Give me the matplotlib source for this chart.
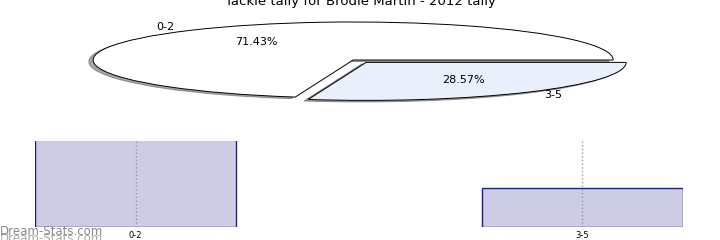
import matplotlib
matplotlib.use("Agg")
import matplotlib.pyplot as plt

# data
categories = ["0-2", "3-5"]
tackles = [5, 2]
title = "Tackle tally for Brodie Martin - 2012 tally"

fig = plt.figure(figsize=(7.2, 2.4), dpi=100)

# flattened pie on top
ax1 = fig.add_axes([0.039, 0.552, 0.903, 0.396])
wedges, texts, autotexts = ax1.pie(
    tackles, labels=categories, autopct="%.2f%%", startangle=0,
    explode=[0, 0.08], shadow=dict(ox=-0.012, oy=-0.03, shade=0.7),
    colors=["white", "#eaf0fb"],
    wedgeprops=dict(edgecolor="black", linewidth=0.7),
    textprops=dict(fontsize=8))
ax1.set_aspect("auto")
ax1.set_xlim(-1.25, 1.25)
ax1.set_ylim(-1.25, 1.25)

fig.text(0.5, 0.992, title, ha="center", va="center", fontsize=9.5)

# bars below
ax2 = fig.add_axes([0.0486, 0.054, 0.9, 0.358])
x = list(range(len(categories)))
ax2.bar(x, tackles, width=0.45, color="#ccccE4", edgecolor="#1a1a9a", linewidth=1, zorder=1)
ax2.set_xlim(-0.225, 1.225)
ax2.set_ylim(0, 4.4)
ax2.set_xticks(x)
ax2.set_xticklabels(categories, fontsize=6)
ax2.tick_params(axis="x", length=0, pad=3)
ax2.set_yticks([])
for s in ax2.spines.values():
    s.set_visible(False)
for xi in x:
    ax2.axvline(xi, color="#999999", linestyle=":", linewidth=1, zorder=2)

# watermark
fig.text(0.0, -0.02, "Dream-Stats.com", color="#aaaaaa", fontsize=8.5, ha="left", va="bottom")
fig.text(0.0, 0.008, "Dream-Stats.com", color="#8a8a8a", fontsize=8.5, ha="left", va="bottom")

fig.savefig("out.png", dpi=100)
